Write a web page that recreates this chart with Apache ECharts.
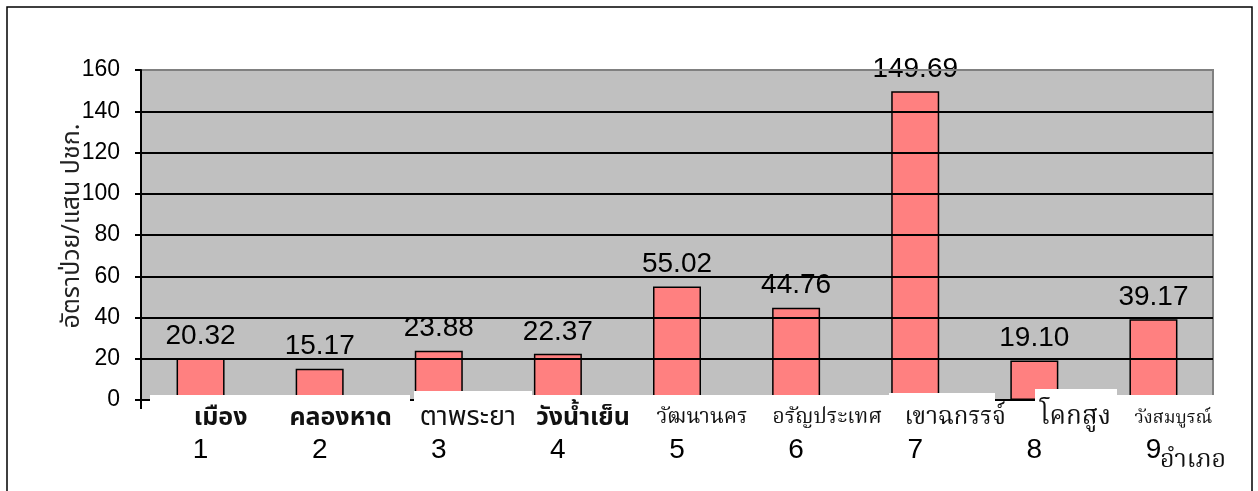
<!DOCTYPE html>
<html>
<head>
<meta charset="utf-8">
<script src="https://cdn.jsdelivr.net/npm/echarts@6/dist/echarts.min.js"></script>
<style>html,body{margin:0;padding:0;background:#fff}#c{width:1258px;height:491px}</style>
</head>
<body>
<div id="c"></div>
<script>
// ---- data ----
const districtNames = ['เมือง','คลองหาด','ตาพระยา','วังน้ำเย็น','วัฒนานคร','อรัญประเทศ','เขาฉกรรจ์','โคกสูง','วังสมบูรณ์'];
const districtNumbers = ['1','2','3','4','5','6','7','8','9'];
const rates = [20.32, 15.17, 23.88, 22.37, 55.02, 44.76, 149.69, 19.10, 39.17];
const yTicks = [0, 20, 40, 60, 80, 100, 120, 140, 160];
const yTitle = 'อัตราป่วย/แสน ปชก.';
const xTitle = 'อำเภอ';

// ---- styles (per-category name appearance) ----
const sansThai = '"Noto Sans Thai", "Noto Sans Thai Looped", Tahoma, "DejaVu Sans", sans-serif';
const serifThai = '"Noto Serif Thai", "Noto Sans Thai Looped", "Noto Sans Thai", serif';
const nameStyles = [
  {font: sansThai, size: 25, weight: 'bold', shift: 20},
  {font: sansThai, size: 25, weight: 'bold', shift: 21},
  {font: sansThai, size: 27, weight: 'normal', shift: 29},
  {font: sansThai, size: 25, weight: 'bold', shift: 25},
  {font: serifThai, size: 21, weight: 'normal', shift: 25},
  {font: serifThai, size: 21, weight: 'normal', shift: 31},
  {font: serifThai, size: 24, weight: 'normal', shift: 40},
  {font: serifThai, size: 26, weight: 'normal', shift: 41},
  {font: serifThai, size: 18, weight: 'normal', shift: 20}
];
const arial = 'Arial, "Liberation Sans", sans-serif';
const rich = {
  num: {fontFamily: arial, fontSize: 28, color: '#000', lineHeight: 30}
};
nameStyles.forEach((s, i) => {
  rich['n' + i] = {
    fontFamily: s.font, fontSize: s.size, fontWeight: s.weight, color: '#111',
    lineHeight: 30, padding: [0, 0, 0, s.shift * 2]
  };
});
const catKeys = districtNumbers.map((n, i) => i);

const chart = echarts.init(document.getElementById('c'), null, {renderer: 'canvas'});
const splitColors = yTicks.map((t, i) => i === yTicks.length - 1 ? '#808080' : '#000');

chart.setOption({
  animation: false,
  backgroundColor: '#fff',
  grid: {left: 141, top: 70, right: 45, bottom: 91, show: true, backgroundColor: '#c0c0c0', borderColor: '#808080', borderWidth: 2},
  xAxis: [
    {
      type: 'category', data: catKeys, position: 'bottom', z: 10,
      axisLine: {show: false}, axisTick: {show: false},
      axisLabel: {
        margin: 5, interval: 0,
        formatter: (v) => '{n' + v + '|' + districtNames[v] + '}\n{num|' + districtNumbers[v] + '}',
        rich: rich
      }
    },
    {
      type: 'category', data: catKeys, position: 'bottom', z: 1,
      axisLine: {show: true, lineStyle: {color: '#000', width: 2}},
      axisTick: {show: true, length: 9, lineStyle: {color: '#000', width: 2}},
      axisLabel: {show: false}
    }
  ],
  yAxis: {
    type: 'value', min: 0, max: 160, interval: 20, z: 3,
    name: yTitle, nameLocation: 'middle', nameGap: 55, nameMoveOverlap: false,
    nameTextStyle: {fontFamily: sansThai, fontSize: 25, color: '#222', padding: [0, 0, 0, 18]},
    axisLine: {show: true, lineStyle: {color: '#000', width: 2}},
    axisTick: {show: true, length: 6, lineStyle: {color: '#000', width: 2}},
    axisLabel: {fontFamily: arial, fontSize: 23, color: '#000', margin: 21},
    splitLine: {show: true, lineStyle: {color: splitColors, width: 2}}
  },
  series: [{
    type: 'bar', data: rates, barWidth: 48, xAxisIndex: 0,
    itemStyle: {color: '#ff8080', borderColor: '#000', borderWidth: 1.5},
    label: {show: true, position: 'top', distance: 8, fontFamily: arial, fontSize: 28, color: '#000',
      formatter: (p) => p.value.toFixed(2)}
  }],
  graphic: [
    {type: 'rect', z: 5, shape: {x: 150, y: 395, width: 260, height: 70}, style: {fill: '#fff'}},
    {type: 'rect', z: 5, shape: {x: 414, y: 391, width: 118, height: 74}, style: {fill: '#fff'}},
    {type: 'rect', z: 5, shape: {x: 532, y: 395, width: 357, height: 70}, style: {fill: '#fff'}},
    {type: 'rect', z: 5, shape: {x: 889, y: 393, width: 106, height: 72}, style: {fill: '#fff'}},
    {type: 'rect', z: 5, shape: {x: 1035, y: 389, width: 82, height: 76}, style: {fill: '#fff'}},
    {type: 'rect', z: 5, shape: {x: 1117, y: 395, width: 101, height: 70}, style: {fill: '#fff'}},
    {type: 'rect', z: 20, shape: {x: 7, y: 7, width: 1245, height: 500}, style: {fill: 'none', stroke: '#000', lineWidth: 1.5}},
    {type: 'text', z: 20, left: 1160, top: 450, style: {text: xTitle, font: '25px ' + serifThai, fill: '#111'}}
  ]
});
</script>
</body>
</html>
